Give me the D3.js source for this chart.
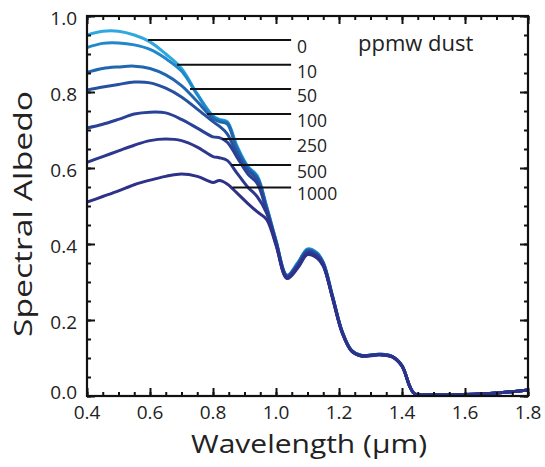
<!DOCTYPE html>
<html>
<head>
<meta charset="utf-8">
<script src="https://cdn.jsdelivr.net/npm/d3@7"></script>
<style>
  html, body { margin: 0; padding: 0; background: #fff; }
  svg { display: block; }
  text { font-family: "Open Sans", "Noto Sans", sans-serif; fill: #222; }
</style>
</head>
<body>
<svg id="chart" width="545" height="467"></svg>
<script>
// Wavelength grid (µm) shared by every dust-loading curve
const wavelength = [0.40, 0.45, 0.50, 0.55, 0.60, 0.65, 0.70, 0.75, 0.80, 0.82, 0.845, 0.875, 0.91, 0.94, 0.97,
                    1.00, 1.035, 1.07, 1.10, 1.13, 1.15, 1.18, 1.21, 1.24, 1.27, 1.33, 1.37, 1.40, 1.425, 1.44,
                    1.50, 1.60, 1.70, 1.80];

// Spectral albedo for each dust concentration (ppmw)
const dust0    = [0.950, 0.960, 0.960, 0.950, 0.932, 0.900, 0.862, 0.795, 0.737, 0.728, 0.722, 0.660, 0.605, 0.580, 0.500,
                  0.410, 0.318, 0.352, 0.387, 0.377, 0.352, 0.262, 0.170, 0.120, 0.107, 0.110, 0.104, 0.080, 0.025, 0.006,
                  0.003, 0.004, 0.008, 0.016];
const dust10   = [0.917, 0.928, 0.929, 0.924, 0.912, 0.888, 0.855, 0.793, 0.735, 0.726, 0.720, 0.657, 0.603, 0.578, 0.498,
                  0.409, 0.317, 0.351, 0.386, 0.376, 0.351, 0.261, 0.170, 0.120, 0.107, 0.110, 0.104, 0.080, 0.025, 0.006,
                  0.003, 0.004, 0.008, 0.016];
const dust50   = [0.852, 0.862, 0.866, 0.868, 0.862, 0.845, 0.817, 0.775, 0.730, 0.722, 0.716, 0.652, 0.600, 0.575, 0.495,
                  0.407, 0.316, 0.349, 0.384, 0.374, 0.350, 0.260, 0.169, 0.119, 0.107, 0.110, 0.104, 0.080, 0.025, 0.006,
                  0.003, 0.004, 0.008, 0.016];
const dust100  = [0.805, 0.813, 0.820, 0.826, 0.824, 0.810, 0.787, 0.755, 0.722, 0.710, 0.690, 0.640, 0.595, 0.570, 0.492,
                  0.405, 0.315, 0.347, 0.381, 0.372, 0.348, 0.259, 0.169, 0.119, 0.106, 0.109, 0.103, 0.079, 0.025, 0.006,
                  0.003, 0.004, 0.008, 0.016];
const dust250  = [0.705, 0.715, 0.728, 0.742, 0.747, 0.745, 0.728, 0.705, 0.682, 0.680, 0.668, 0.630, 0.585, 0.560, 0.488,
                  0.403, 0.313, 0.344, 0.378, 0.369, 0.346, 0.258, 0.168, 0.119, 0.106, 0.109, 0.103, 0.079, 0.025, 0.006,
                  0.003, 0.004, 0.008, 0.016];
const dust500  = [0.615, 0.630, 0.645, 0.660, 0.672, 0.676, 0.672, 0.655, 0.630, 0.627, 0.620, 0.588, 0.550, 0.525, 0.482,
                  0.400, 0.311, 0.341, 0.375, 0.366, 0.344, 0.257, 0.167, 0.118, 0.106, 0.109, 0.103, 0.079, 0.025, 0.006,
                  0.003, 0.004, 0.008, 0.016];
const dust1000 = [0.510, 0.525, 0.540, 0.556, 0.568, 0.578, 0.584, 0.578, 0.562, 0.567, 0.558, 0.535, 0.507, 0.485, 0.465,
                  0.397, 0.309, 0.338, 0.372, 0.363, 0.342, 0.256, 0.166, 0.118, 0.105, 0.108, 0.102, 0.078, 0.024, 0.006,
                  0.003, 0.004, 0.008, 0.016];

const seriesLabels = ["0", "10", "50", "100", "250", "500", "1000"];
const seriesValues = [dust0, dust10, dust50, dust100, dust250, dust500, dust1000];
const seriesColors = ["#2ea8df", "#1f87ca", "#2067b0", "#2551a0", "#2b4195", "#2d378e", "#2e318a"];

const xTicks = [0.4, 0.6, 0.8, 1.0, 1.2, 1.4, 1.6, 1.8];
const yTicks = [0.0, 0.2, 0.4, 0.6, 0.8, 1.0];

// Leader lines tying each label to its curve: start wavelength and albedo level
const leaderStart = [0.594, 0.686, 0.727, 0.781, 0.829, 0.858, 0.862];
const leaderLevel = [0.937, 0.872, 0.808, 0.742, 0.676, 0.608, 0.549];
const leaderEnd = 1.048;

const svg = d3.select("#chart");
const plotL = 87, plotR = 528, plotT = 16, plotB = 396;

const x = d3.scaleLinear().domain([0.4, 1.8]).range([plotL, plotR]);
const y = d3.scaleLinear().domain([0, 1]).range([plotB, plotT]);

svg.append("defs").append("clipPath").attr("id", "plotClip")
  .append("rect").attr("x", plotL).attr("y", plotT).attr("width", plotR - plotL).attr("height", plotB - plotT);

// Curves
const line = d3.line()
  .x((d, i) => x(wavelength[i]))
  .y(d => y(d))
  .curve(d3.curveCatmullRom.alpha(0.5));

svg.append("g").attr("clip-path", "url(#plotClip)")
  .selectAll("path")
  .data(seriesValues)
  .join("path")
  .attr("d", d => line(d))
  .attr("fill", "none")
  .attr("stroke", (d, i) => seriesColors[i])
  .attr("stroke-width", 3)
  .attr("stroke-linejoin", "round");

// Inward ticks on all four sides (major every 0.2, minor every 0.05)
const xMinor = d3.range(0.4, 1.8001, 0.05);
const yMinor = d3.range(0, 1.0001, 0.05);
function tickAxes(axisFn, scale, vals, size, tr) {
  svg.append("g").attr("transform", tr)
    .call(axisFn(scale).tickValues(vals).tickSize(size).tickFormat(""))
    .call(g => g.select(".domain").remove())
    .call(g => g.selectAll("line").attr("stroke", "#111").attr("stroke-width", 2));
}
tickAxes(d3.axisBottom, x, xMinor, -4, `translate(0,${plotB})`);
tickAxes(d3.axisBottom, x, xTicks, -8, `translate(0,${plotB})`);
tickAxes(d3.axisTop, x, xMinor, -4, `translate(0,${plotT})`);
tickAxes(d3.axisTop, x, xTicks, -8, `translate(0,${plotT})`);
tickAxes(d3.axisLeft, y, yMinor, -4, `translate(${plotL},0)`);
tickAxes(d3.axisLeft, y, yTicks, -8, `translate(${plotL},0)`);
tickAxes(d3.axisRight, y, yMinor, -4, `translate(${plotR},0)`);
tickAxes(d3.axisRight, y, yTicks, -8, `translate(${plotR},0)`);

// Frame
svg.append("rect")
  .attr("x", plotL).attr("y", plotT).attr("width", plotR - plotL).attr("height", plotB - plotT)
  .attr("fill", "none").attr("stroke", "#111").attr("stroke-width", 2.2);

// Tick labels
svg.append("g").selectAll("text").data(xTicks).join("text")
  .attr("x", d => x(d)).attr("y", 419)
  .attr("text-anchor", "middle").attr("font-size", 19)
  .text(d => d.toFixed(1));

svg.append("g").selectAll("text").data(yTicks).join("text")
  .attr("x", 77).attr("y", d => y(d) + (d === 0 ? 3 : 9))
  .attr("text-anchor", "end").attr("font-size", 19)
  .text(d => d.toFixed(1));

// Axis titles
svg.append("text")
  .attr("x", 309).attr("y", 453)
  .attr("text-anchor", "middle").attr("font-size", 25)
  .attr("textLength", 236).attr("lengthAdjust", "spacingAndGlyphs")
  .text("Wavelength (\u03bcm)");

svg.append("text")
  .attr("transform", "translate(32,214) rotate(-90)")
  .attr("text-anchor", "middle").attr("font-size", 26)
  .attr("textLength", 246).attr("lengthAdjust", "spacingAndGlyphs")
  .text("Spectral Albedo");

// Leader lines and dust labels
const ann = svg.append("g");
ann.selectAll("line").data(seriesLabels).join("line")
  .attr("x1", (d, i) => x(leaderStart[i])).attr("x2", x(leaderEnd))
  .attr("y1", (d, i) => y(leaderLevel[i])).attr("y2", (d, i) => y(leaderLevel[i]))
  .attr("stroke", "#111").attr("stroke-width", 2);
ann.selectAll("text").data(seriesLabels).join("text")
  .attr("x", x(leaderEnd) + 6).attr("y", (d, i) => y(leaderLevel[i]) + 13)
  .attr("font-size", 17.5)
  .text(d => d);

svg.append("text")
  .attr("x", 358).attr("y", 51)
  .attr("font-size", 22)
  .text("ppmw dust");
</script>
</body>
</html>
